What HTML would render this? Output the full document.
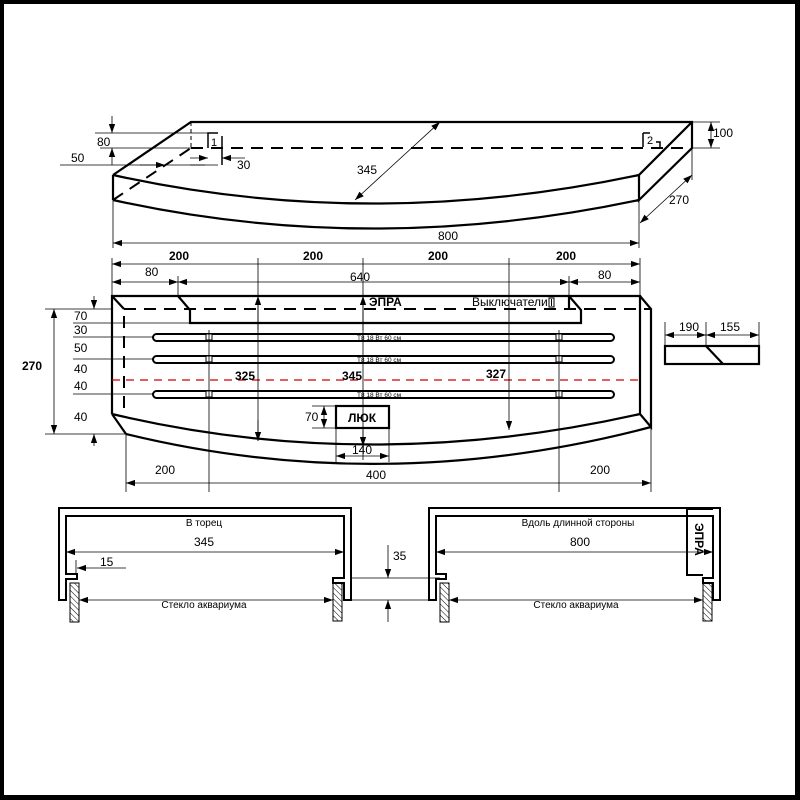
<!DOCTYPE html>
<html><head><meta charset="utf-8"><style>
html,body{margin:0;padding:0;background:#000;}
svg{display:block;}
text{font-family:"Liberation Sans",Arial,sans-serif;fill:#000;}
</style></head><body>
<svg width="800" height="800" viewBox="0 0 800 800" xmlns="http://www.w3.org/2000/svg">
<defs>
<marker id="a" viewBox="0 0 10 10" refX="10" refY="5" markerWidth="9" markerHeight="9" orient="auto-start-reverse" markerUnits="userSpaceOnUse"><path d="M0,1.5 L10,5 L0,8.5 Z" fill="#000"/></marker>
<pattern id="h" width="4" height="4" patternUnits="userSpaceOnUse" patternTransform="rotate(-45)"><line x1="0" y1="0" x2="0" y2="4" stroke="#000" stroke-width="1"/></pattern>
</defs>
<rect x="4" y="4" width="791" height="791" fill="#fff"/>

<!-- ===== TOP 3D VIEW ===== -->
<g fill="none" stroke="#000" stroke-width="2.2">
<path d="M113,175 L191,122 L692,122 L692,148 L639,200 L639,175 L692,122"/>
<path d="M113,175 L113,200"/>
<path d="M113,175 Q370,232 639,175"/>
<path d="M113,200 Q370,257 639,200"/>
</g>
<g fill="none" stroke="#000" stroke-width="2" stroke-dasharray="12,8">
<path d="M191,148 L692,148"/>
<path d="M113,200 L191,148"/>
</g>
<path d="M191,122 L191,148" stroke="#000" stroke-width="1" stroke-dasharray="4,3"/>
<g fill="none" stroke="#000" stroke-width="1.5">
<path d="M208,148 L208,133 L218,133"/>
<path d="M222,136 L222,165"/>
<path d="M643,133 L643,147 M643,133 L650,133 M656,142 L660,142 L660,147"/>
</g>
<text x="211" y="146" font-size="11">1</text>
<text x="647" y="144" font-size="11">2</text>
<g stroke="#000" stroke-width="0.8" fill="none">
<path d="M95,133 L218,133 M100,148 L191,148 M60,165 L218,165"/>
<path d="M112,116 L112,133" marker-end="url(#a)"/>
<path d="M112,165 L112,148" marker-end="url(#a)"/>
<path d="M140,165 L165,165" marker-end="url(#a)"/>
<path d="M190,158 L208,158" marker-end="url(#a)"/>
<path d="M245,158 L222,158" marker-end="url(#a)"/>
<path d="M205,165 L190,165" />
<path d="M355,200 L440,122" marker-start="url(#a)" marker-end="url(#a)"/>
<path d="M113,200 L113,248 M639,200 L639,248"/>
<path d="M113,243 L639,243" marker-start="url(#a)" marker-end="url(#a)"/>
<path d="M692,122 L720,122 M692,148 L720,148 M692,148 L692,180"/>
<path d="M711,122 L711,148" marker-start="url(#a)" marker-end="url(#a)"/>
<path d="M640,223 L692,175" marker-start="url(#a)" marker-end="url(#a)"/>
</g>
<g font-size="12">
<text x="97" y="146">80</text>
<text x="71" y="162">50</text>
<text x="237" y="169">30</text>
<text x="357" y="174">345</text>
<text x="438" y="240">800</text>
<text x="713" y="137">100</text>
<text x="669" y="204">270</text>
</g>

<!-- ===== PLAN VIEW ===== -->
<g fill="none" stroke="#000" stroke-width="2.2">
<path d="M112,414 L112,296 L640,296 L640,414 M112,296 L124,309 M640,296 L651,309 L651,427 L640,414 M112,414 L126,434"/>
<path d="M112,414 Q370,475 640,414"/>
<path d="M126,434 Q385,497 651,427"/>
<path d="M178,296 L190,310 L190,323 L581,323 L581,310 L569,296 M569,296 L569,310"/>
<rect x="336" y="406" width="53" height="22"/>
<rect x="665" y="346" width="94" height="18"/>
<path d="M706,346 L723,364"/>
</g>
<g fill="none" stroke="#000" stroke-width="2" stroke-dasharray="12,8">
<path d="M124,309 L651,309"/>
<path d="M124,316 L124,414"/>
</g>
<path d="M112,380 L640,380" stroke="#c00" stroke-width="1.2" stroke-dasharray="8,6"/>
<g fill="#fff" stroke="#000" stroke-width="2">
<rect x="153" y="334" width="461" height="7" rx="3.5"/>
<rect x="153" y="356" width="461" height="7" rx="3.5"/>
<rect x="153" y="391" width="461" height="7" rx="3.5"/>
</g>
<g fill="#fff" stroke="#000" stroke-width="1">
<rect x="206" y="334" width="6" height="6"/><rect x="556" y="334" width="6" height="6"/>
<rect x="206" y="356" width="6" height="6"/><rect x="556" y="356" width="6" height="6"/>
<rect x="206" y="391" width="6" height="6"/><rect x="556" y="391" width="6" height="6"/>
</g>
<g font-size="6.5"><text x="357" y="340">T8 18 Вт 60 см</text><text x="357" y="362">T8 18 Вт 60 см</text><text x="357" y="397">T8 18 Вт 60 см</text></g>
<g stroke="#000" stroke-width="0.8" fill="none">
<path d="M112,258 L112,296 M640,258 L640,296 M178,276 L178,296 M569,276 L569,296"/>
<path d="M112,264 L640,264" marker-start="url(#a)" marker-end="url(#a)"/>
<path d="M112,282 L178,282" marker-start="url(#a)" marker-end="url(#a)"/>
<path d="M178,282 L569,282" marker-start="url(#a)" marker-end="url(#a)"/>
<path d="M569,282 L640,282" marker-start="url(#a)" marker-end="url(#a)"/>
<path d="M258,258 L258,296 M258,296 L258,441" />
<path d="M258,330 L258,296" marker-end="url(#a)"/>
<path d="M258,420 L258,441" marker-end="url(#a)"/>
<path d="M363,258 L363,460"/>
<path d="M363,330 L363,296" marker-end="url(#a)"/>
<path d="M363,430 L363,446" marker-end="url(#a)"/>
<path d="M509,258 L509,430" marker-end="url(#a)"/>
<path d="M209,330 L209,492 M559,330 L559,492"/>
<path d="M45,309 L112,309 M73,323 L190,323 M73,337 L153,337 M73,359 L153,359 M73,394 L153,394 M45,434 L126,434"/>
<path d="M54,309 L54,434" marker-start="url(#a)" marker-end="url(#a)"/>
<path d="M94,296 L94,309" marker-end="url(#a)"/>
<path d="M94,446 L94,434" marker-end="url(#a)"/>
<path d="M312,406 L336,406 M312,428 L336,428"/>
<path d="M324,406 L324,428" marker-start="url(#a)" marker-end="url(#a)"/>
<path d="M336,428 L336,462 M389,428 L389,462"/>
<path d="M336,456 L389,456" marker-start="url(#a)" marker-end="url(#a)"/>
<path d="M126,434 L126,492 M651,427 L651,492"/>
<path d="M126,483 L651,483" marker-start="url(#a)" marker-end="url(#a)"/>
<path d="M665,322 L665,346 M706,322 L706,346 M759,322 L759,346"/>
<path d="M665,335 L706,335" marker-start="url(#a)" marker-end="url(#a)"/>
<path d="M706,335 L759,335" marker-start="url(#a)" marker-end="url(#a)"/>
</g>
<g font-size="12" font-weight="bold">
<text x="169" y="260">200</text><text x="303" y="260">200</text><text x="428" y="260">200</text><text x="556" y="260">200</text>
<text x="22" y="370">270</text>
<text x="235" y="380">325</text><text x="342" y="380">345</text><text x="486" y="378">327</text>
<text x="369" y="306">ЭПРА</text>
<text x="348" y="422">ЛЮК</text>
</g>
<g font-size="12">
<text x="145" y="276">80</text><text x="350" y="281">640</text><text x="598" y="279">80</text>
<text x="472" y="306">Выключатели</text>
<text x="74" y="320">70</text><text x="74" y="334">30</text><text x="74" y="352">50</text><text x="74" y="373">40</text><text x="74" y="390">40</text><text x="74" y="421">40</text>
<text x="305" y="421">70</text>
<text x="352" y="454">140</text>
<text x="155" y="474">200</text><text x="366" y="479">400</text><text x="590" y="474">200</text>
<text x="679" y="331">190</text><text x="720" y="331">155</text>
</g>
<rect x="549" y="298" width="5" height="9" fill="none" stroke="#000" stroke-width="1"/>
<line x1="551.5" y1="299" x2="551.5" y2="306" stroke="#000" stroke-width="1"/>

<!-- ===== SECTIONS ===== -->
<g fill="none" stroke="#000" stroke-width="2">
<path d="M59,600 L59,508 L351,508 L351,600 L344,600 L344,583 L333,583 L333,578 L344,578 L344,516 L66,516 L66,574 L77,574 L77,579 L66,579 L66,600 Z"/>
<path d="M429,600 L429,508 L720,508 L720,600 L713,600 L713,583 L703,583 L703,578 L713,578 L713,516 L436,516 L436,574 L446,574 L446,579 L436,579 L436,600 Z"/>
<path d="M687,509 L687,575 L703,575 M687,509 L713,509"/>
</g>
<g fill="url(#h)" stroke="#000" stroke-width="1">
<rect x="70" y="583" width="9" height="39"/><rect x="333" y="583" width="9" height="38"/>
<rect x="440" y="583" width="9" height="39"/><rect x="703" y="583" width="9" height="38"/>
</g>
<g stroke="#000" stroke-width="0.8" fill="none">
<path d="M66,552 L344,552" marker-start="url(#a)" marker-end="url(#a)"/>
<path d="M126,568 L77,568" marker-end="url(#a)"/>
<path d="M76,560 L76,574"/>
<path d="M79,600 L333,600" marker-start="url(#a)" marker-end="url(#a)"/>
<path d="M436,552 L713,552" marker-start="url(#a)" marker-end="url(#a)"/>
<path d="M449,600 L703,600" marker-start="url(#a)" marker-end="url(#a)"/>
<path d="M351,578 L440,578 M351,600 L432,600"/>
<path d="M388,545 L388,578" marker-end="url(#a)"/>
<path d="M388,622 L388,600" marker-end="url(#a)"/>
</g>
<g font-size="10" text-anchor="middle">
<text x="204" y="526">В торец</text>
<text x="204" y="608">Стекло аквариума</text>
<text x="578" y="526">Вдоль длинной стороны</text>
<text x="576" y="608">Стекло аквариума</text>
</g>
<g font-size="12">
<text x="194" y="546">345</text>
<text x="100" y="566">15</text>
<text x="393" y="560">35</text>
<text x="570" y="546">800</text>
</g>
<text x="0" y="0" font-size="12" font-weight="bold" transform="translate(695,523) rotate(90)">ЭПРА</text>
</svg>
</body></html>
